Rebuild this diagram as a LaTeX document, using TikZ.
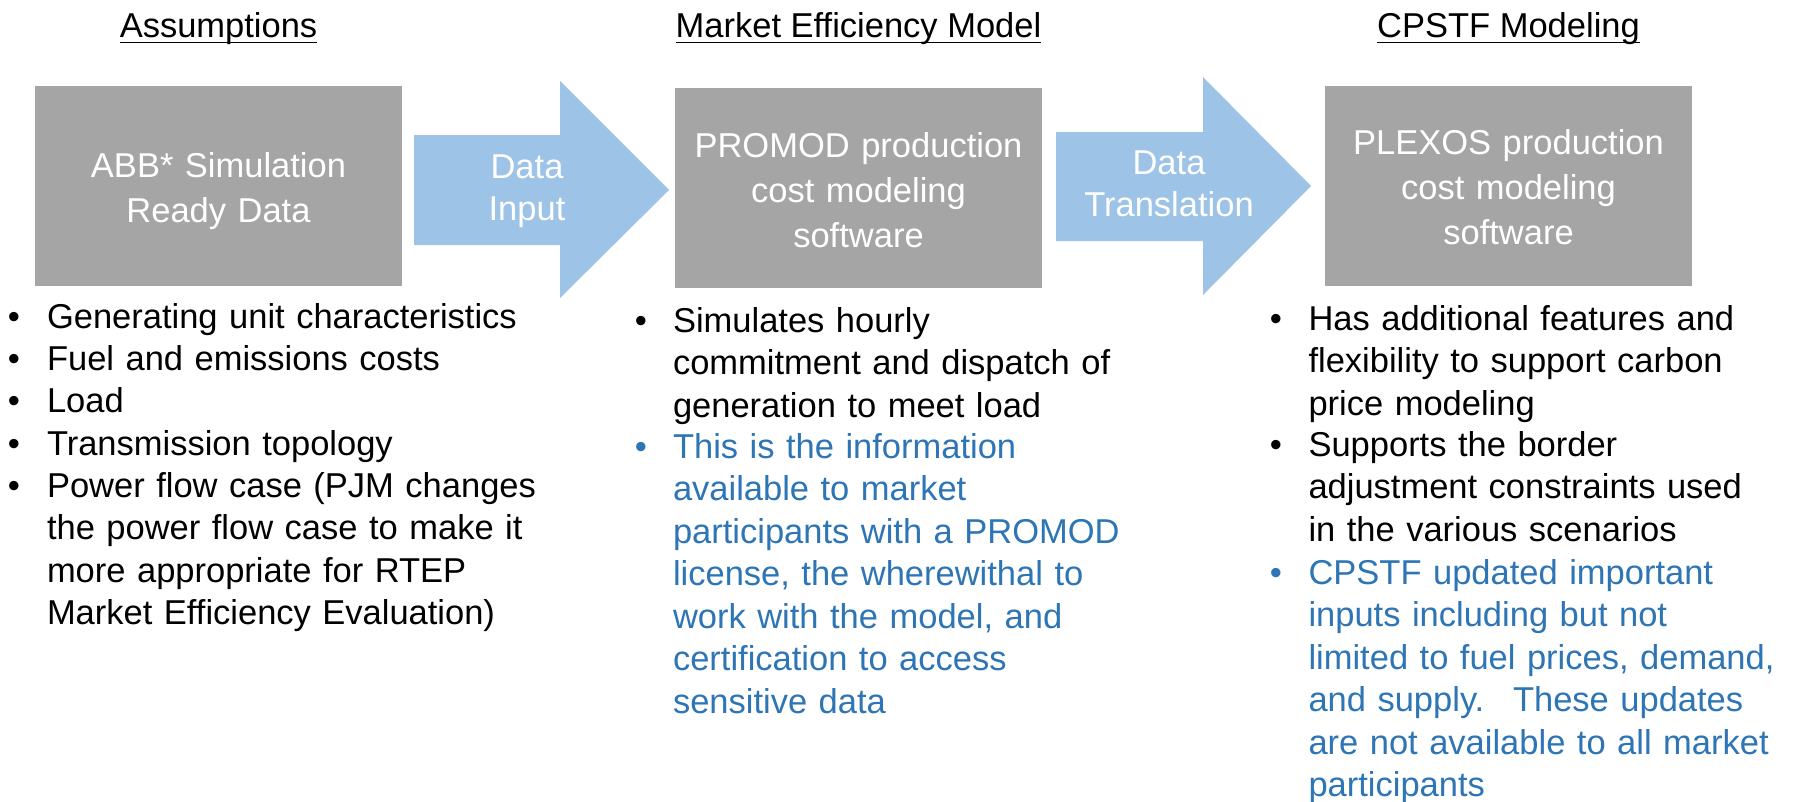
\documentclass[tikz,border=0pt]{standalone}
\usepackage{fontspec}
\setmainfont{Liberation Sans}
\usetikzlibrary{calc}
\definecolor{boxgray}{HTML}{A5A5A5}
\definecolor{arrowblue}{HTML}{9DC3E6}
\definecolor{noteblue}{HTML}{2E75B6}

\begin{document}
\begin{tikzpicture}[x=1pt,y=-1pt,
  every node/.style={inner sep=0pt, outer sep=0pt},
  body/.style={font=\fontsize{34.5}{42.5}\selectfont},
  title/.style={body, anchor=base},
  rule/.style={line width=1.8pt},
  stage/.style={fill=boxgray, draw=none, minimum width=367pt, minimum height=200pt},
  flow/.style={fill=arrowblue, draw=none},
  boxtext/.style={font=\fontsize{34.5}{45}\selectfont, text=white, anchor=base, text width=360pt, align=center},
  flowtext/.style={body, text=white, anchor=base, text width=200pt, align=center},
  item/.style={body, anchor=base west, text width=#1, align=left},
  item/.default=520pt,
  bulletmark/.style={body, anchor=base},
  note/.style={text=noteblue}]

% canvas
\useasboundingbox (0,0) rectangle (1801,801);
\clip (0,0) rectangle (1801,801);
\fill[white] (0,0) rectangle (1801,801);

% column headings
\node[title] (h1) at (218.5,37) {Assumptions};
\node[title] (h2) at (858.5,37) {Market Efficiency Model};
\node[title] (h3) at (1508.5,37) {CPSTF Modeling};
\foreach \h in {h1,h2,h3}
  \draw[rule] ($(\h.base west)+(0,5.5)$) -- ($(\h.base east)+(0,5.5)$);

% stage boxes
\node[stage] (s1) at (218.5,186) {};
\node[stage] (s2) at (858.5,187.5) {};
\node[stage] (s3) at (1508.5,186) {};
\node[boxtext] (s1t) at (218.5,177) {ABB* Simulation\\Ready Data};
\node[boxtext] (s2t) at (858.5,157) {PROMOD production\\cost modeling\\software};
\node[boxtext] (s3t) at (1508.5,154) {PLEXOS production\\cost modeling\\software};

% block arrows between the stages
\fill[flow] (414,135) -- (560,135) -- (560,81) -- (669,190)
  -- (560,298) -- (560,245) -- (414,245) -- cycle;
\fill[flow] (1056,132) -- (1203,132) -- (1203,77) -- (1311,186)
  -- (1203,295) -- (1203,241) -- (1056,241) -- cycle;
\node[flowtext] (a1t) at (527,178) {Data\\Input};
\node[flowtext] (a2t) at (1169,174) {Data\\Translation};

% assumptions list
\node[bulletmark] (b11) at (14,328) {\textbullet};
\node[item] (i11) at (47,328) {Generating unit characteristics};
\node[bulletmark] (b12) at (14,370) {\textbullet};
\node[item] (i12) at (47,370) {Fuel and emissions costs};
\node[bulletmark] (b13) at (14,412) {\textbullet};
\node[item] (i13) at (47,412) {Load};
\node[bulletmark] (b14) at (14,455) {\textbullet};
\node[item] (i14) at (47,455) {Transmission topology};
\node[bulletmark] (b15) at (14,497) {\textbullet};
\node[item] (i15) at (47,497) {Power flow case (PJM changes\\the power flow case to make it\\more appropriate for RTEP\\Market Efficiency Evaluation)};

% market efficiency model list
\node[bulletmark] (b21) at (641,332) {\textbullet};
\node[item] (i21) at (673,332) {Simulates hourly\\commitment and dispatch of\\generation to meet load};
\node[bulletmark, note] (b22) at (641,458) {\textbullet};
\node[item, note] (i22) at (673,458) {This is the information\\available to market\\participants with a PROMOD\\license, the wherewithal to\\work with the model, and\\certification to access\\sensitive data};

% CPSTF modeling list
\node[bulletmark] (b31) at (1276,330) {\textbullet};
\node[item=490pt] (i31) at (1308.5,330) {Has additional features and\\flexibility to support carbon\\price modeling};
\node[bulletmark] (b32) at (1276,456) {\textbullet};
\node[item=490pt] (i32) at (1308.5,456) {Supports the border\\adjustment constraints used\\in the various scenarios};
\node[bulletmark, note] (b33) at (1276,584) {\textbullet};
\node[item=490pt, note] (i33) at (1308.5,584) {CPSTF updated important\\inputs including but not\\limited to fuel prices, demand,\\and supply.~ These updates\\are not available to all market\\participants};
\end{tikzpicture}
\end{document}
